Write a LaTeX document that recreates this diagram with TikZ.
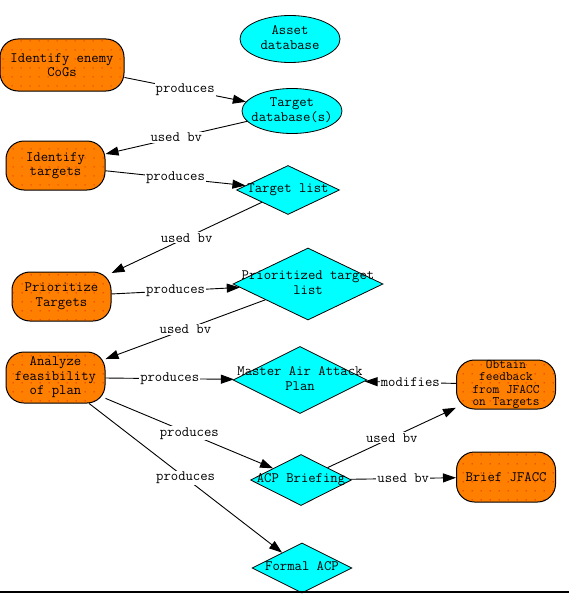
\documentclass[tikz,border=0pt]{standalone}
\usepackage{fontspec}
\usepackage{tikz}
\usetikzlibrary{shapes,arrows.meta,positioning,calc,patterns.meta}
\definecolor{procorange}{RGB}{255,128,0}
\definecolor{datacyan}{RGB}{0,255,255}
\newcommand{\shapetext}[1]{\makebox[0pt]{\begin{tabular}{@{}c@{}}#1\end{tabular}}}
\tikzdeclarepattern{
  name=procdots,
  type=uncolored,
  bounding box={(0pt,0pt) and (9pt,9pt)},
  tile size={(9pt,9pt)},
  code={\pgfpathcircle{\pgfpoint{4.5pt}{4.5pt}}{0.6pt}\pgfusepath{fill}}
}

\begin{document}
\begin{tikzpicture}[x=1pt, y=-1pt,
        every node/.style={font=\ttfamily\fontsize{14.3}{14.5}\selectfont},
        proc/.style={rectangle, rounded corners=18pt, draw=black, line width=1pt, fill=procorange, postaction={pattern=procdots, pattern color=red!85!black}, align=center, inner sep=0pt, minimum width=99pt, minimum height=49pt},
        store/.style={ellipse, draw=black, line width=0.8pt, fill=datacyan, inner sep=0pt, minimum width=100pt, minimum height=47pt},
        prod/.style={diamond, draw=black, line width=0.8pt, fill=datacyan, inner sep=0pt, minimum width=100pt, minimum height=50pt},
        lbl/.style={fill=white, inner sep=1pt},
        arrow/.style={->, >={Triangle[length=13pt,width=9pt]}, line width=0.9pt, black}]

        \useasboundingbox (0,0) rectangle (569,594);

        \node[proc, minimum width=124pt, minimum height=52pt] (cogs) at (62,65) {Identify enemy\\CoGs};
        \node[store] (asset) at (290,39) {\shapetext{Asset\\database}};
        \node[store, minimum height=45pt] (tdb) at (292,111) {\shapetext{Target\\database(s)}};
        \node[proc] (ident) at (55.5,165.5) {Identify\\targets};
        \node[prod, minimum width=103pt, minimum height=49pt] (tlist) at (288,190) {\shapetext{Target list}};
        \node[proc] (prio) at (61.5,296.5) {Prioritize\\Targets};
        \node[prod, minimum width=150pt, minimum height=72pt] (plist) at (308,284) {\shapetext{Prioritized target\\list}};
        \node[proc, minimum height=51pt] (feas) at (55.5,377.5) {Analyze\\feasibility\\of plan};
        \node[prod, minimum width=134pt, minimum height=67pt] (maap) at (300,380) {\shapetext{Master Air Attack\\Plan}};
        \node[proc, font=\ttfamily\fontsize{13}{12.4}\selectfont] (feedback) at (506,384.5) {Obtain\\feedback\\from JFACC\\on Targets};
        \node[prod, minimum width=101pt, minimum height=51pt] (brief) at (301,480) {\shapetext{ACP Briefing}};
        \node[proc, minimum height=50pt] (jfacc) at (506,477) {Brief JFACC};
        \node[prod] (formal) at (302,568) {\shapetext{Formal ACP}};

        \draw[arrow] (cogs) -- node[lbl] {produces} (tdb);
        \draw[arrow] (tdb) -- node[lbl] {used bv} (ident);
        \draw[arrow] (ident) -- node[lbl] {produces} (tlist);
        \draw[arrow] (tlist) -- node[lbl] {used bv} (prio);
        \draw[arrow] (prio) -- node[lbl] {produces} (plist);
        \draw[arrow] (plist) -- node[lbl] {used bv} (feas);
        \draw[arrow] (feas) -- node[lbl] {produces} (maap);
        \draw[arrow] (feedback) -- node[lbl] {modifies} (maap);
        \draw[arrow] (feas) -- node[lbl] {produces} (brief);
        \draw[arrow] (brief) -- node[lbl] {used bv} (feedback);
        \draw[arrow] (brief) -- node[lbl] {used bv} (jfacc);
        \draw[arrow] (feas) -- node[lbl] {produces} (formal);

        \draw[line width=1.5pt] (0,592) -- (569,592);

    \end{tikzpicture}
\end{document}
